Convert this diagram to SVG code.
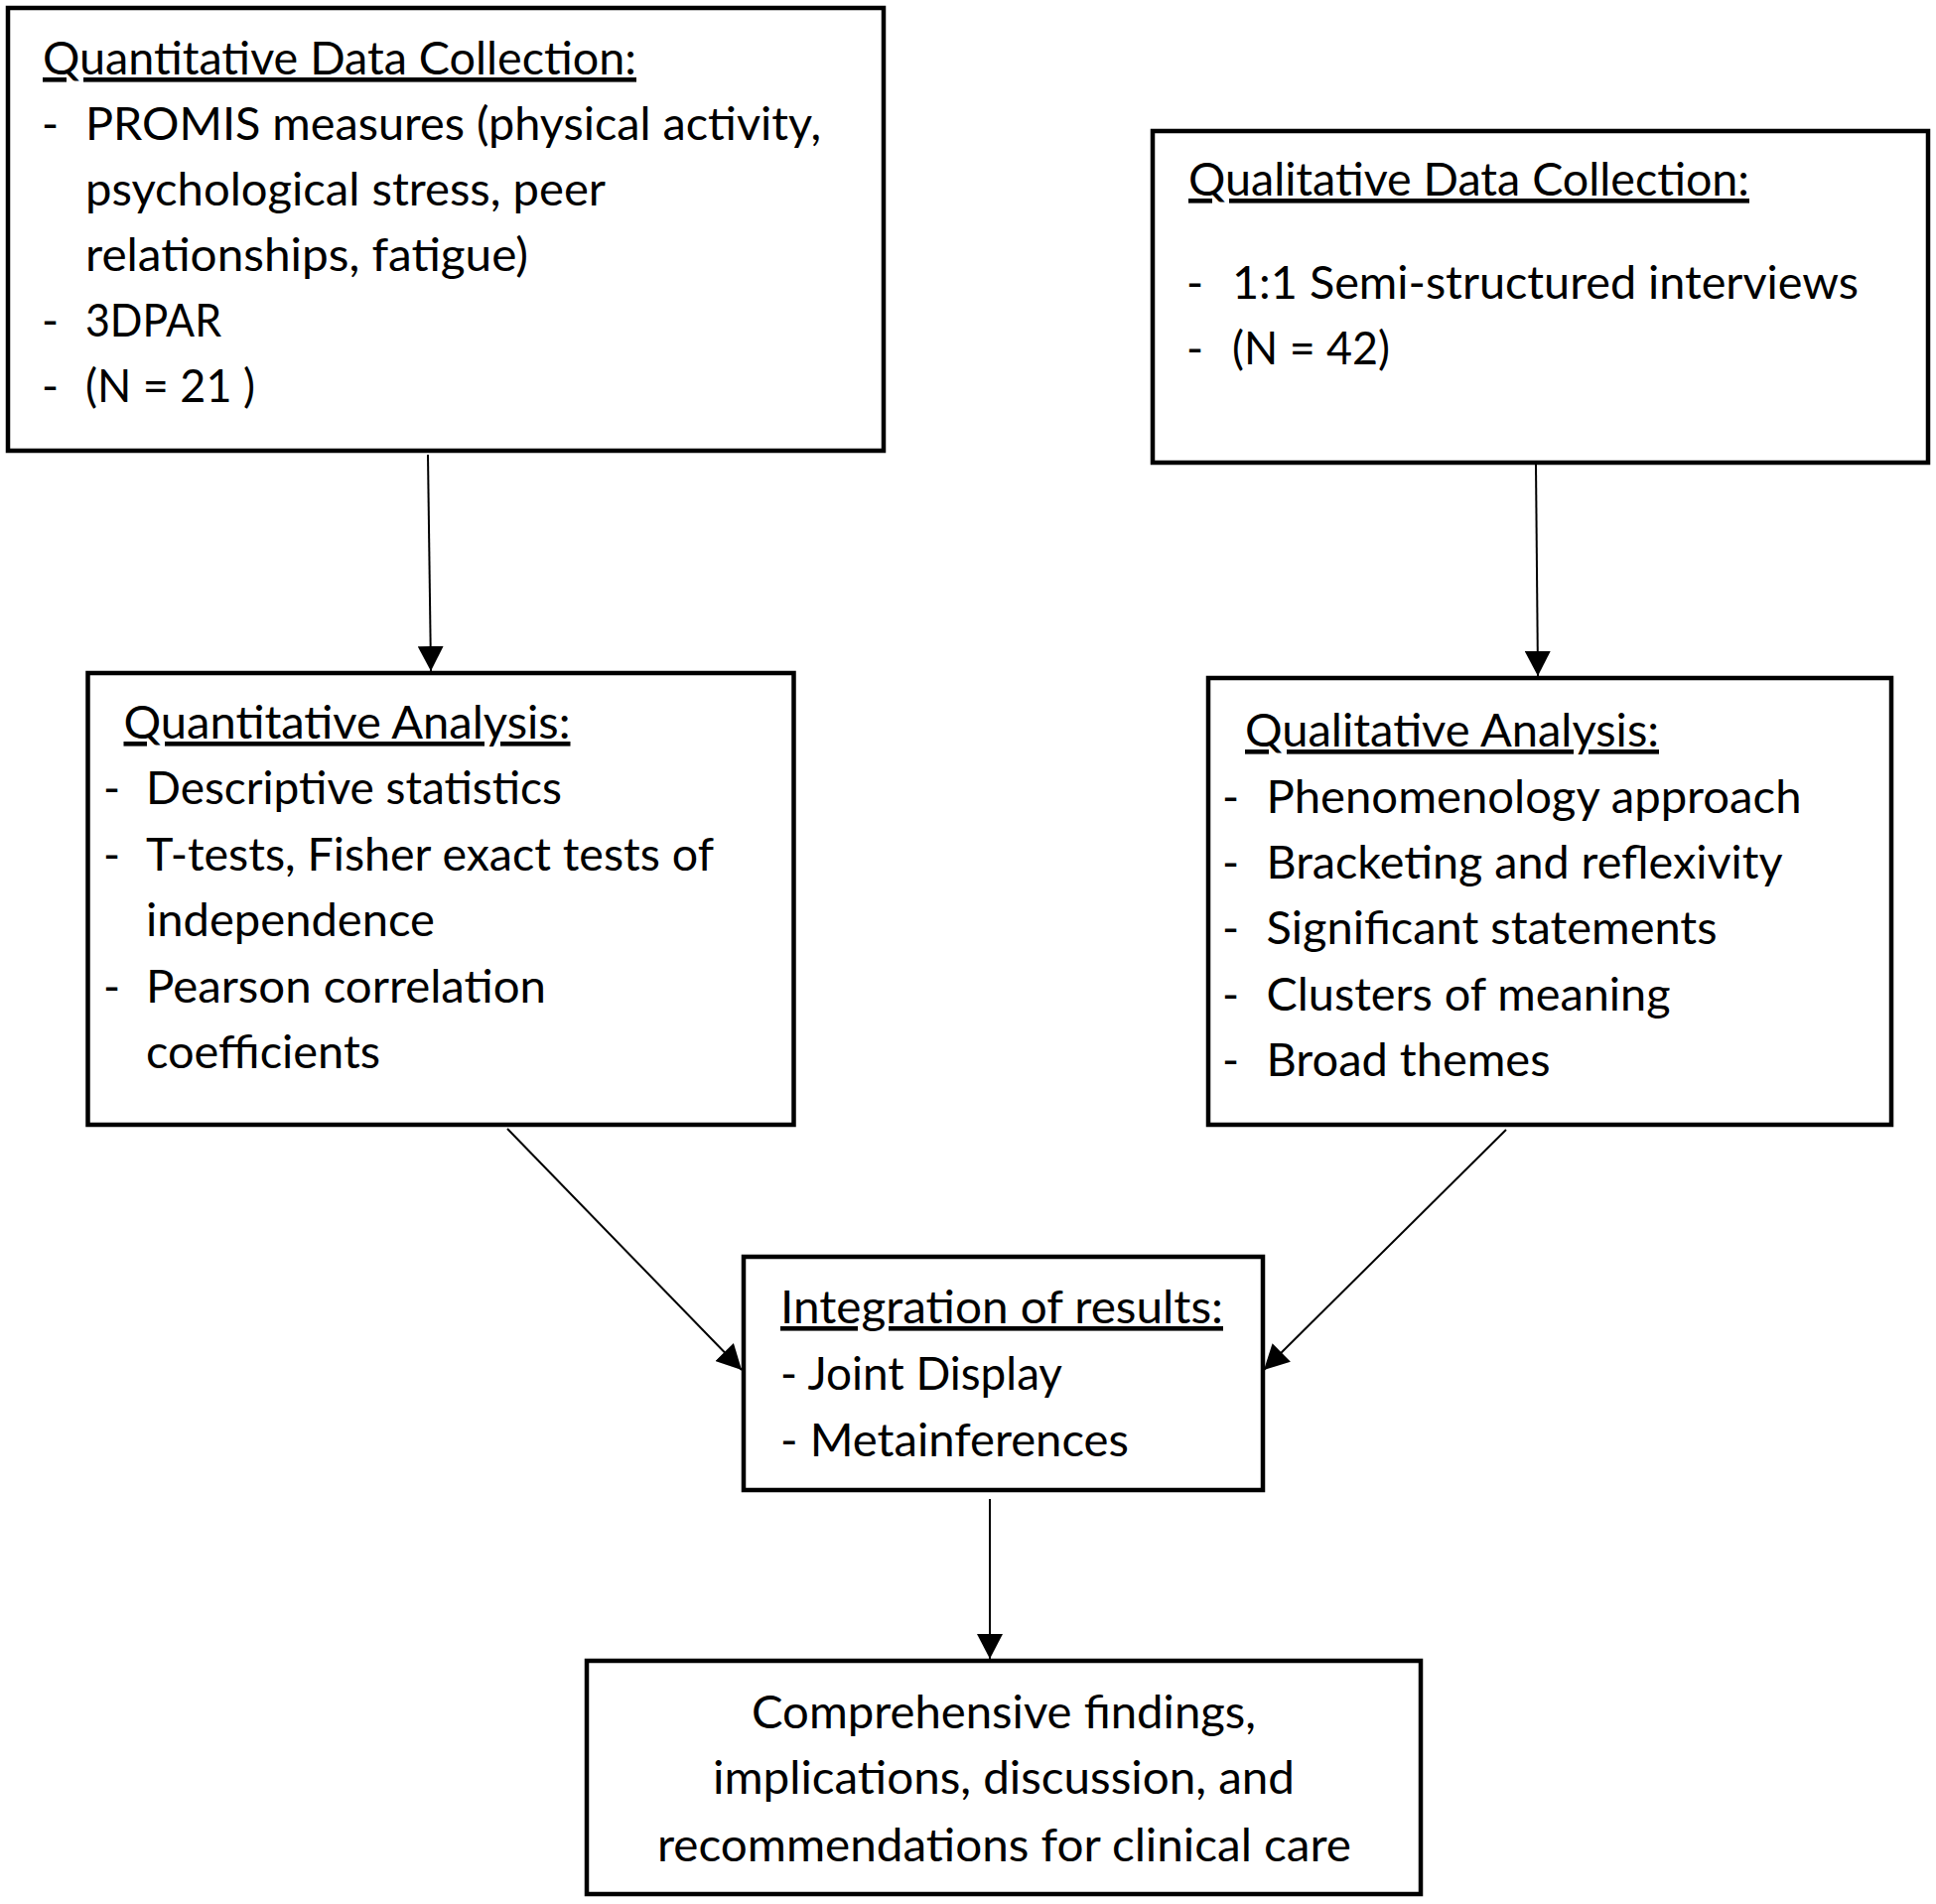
<svg xmlns="http://www.w3.org/2000/svg" width="1950" height="1918" viewBox="0 0 1950 1918">
<style>
.box{fill:#fff;stroke:#000;stroke-width:4.5}
text{font-family:Lato,"Open Sans","Liberation Sans",sans-serif;font-size:46px;fill:#000}
.u{text-decoration:underline}
.c{text-anchor:middle}
.conn line{stroke:#000;stroke-width:2}
</style>
<defs>
<marker id="ah" markerUnits="userSpaceOnUse" markerWidth="26" markerHeight="26" refX="25" refY="13" orient="auto" viewBox="0 0 26 26">
<path d="M0,0 L25,13 L0,26 z" fill="#000"/>
</marker>
</defs>
<rect width="1950" height="1918" fill="#fff"/>
<g id="connectors" class="conn">
<line x1="431" y1="458" x2="434" y2="676" marker-end="url(#ah)"/>
<line x1="1547" y1="468" x2="1549" y2="681" marker-end="url(#ah)"/>
<line x1="511" y1="1137" x2="747" y2="1380" marker-end="url(#ah)"/>
<line x1="1517" y1="1138" x2="1273" y2="1380" marker-end="url(#ah)"/>
<line x1="997" y1="1510" x2="997" y2="1671" marker-end="url(#ah)"/>
</g>
<g id="quant-collection">
<rect class="box" x="8" y="8" width="882" height="446"/>
<text class="u" x="43" y="75" textLength="598" lengthAdjust="spacingAndGlyphs">Quantitative Data Collection:</text>
<text x="42" y="141">-</text>
<text x="86" y="141" textLength="741" lengthAdjust="spacingAndGlyphs">PROMIS measures (physical activity,</text>
<text x="86" y="207" textLength="524" lengthAdjust="spacingAndGlyphs">psychological stress, peer</text>
<text x="86" y="273" textLength="446" lengthAdjust="spacingAndGlyphs">relationships, fatigue)</text>
<text x="42" y="339">-</text>
<text x="86" y="339" textLength="137" lengthAdjust="spacingAndGlyphs">3DPAR</text>
<text x="42" y="405">-</text>
<text x="86" y="405" textLength="171" lengthAdjust="spacingAndGlyphs">(N = 21 )</text>
</g>
<g id="qual-collection">
<rect class="box" x="1161" y="132" width="781" height="334"/>
<text class="u" x="1197" y="197" textLength="565" lengthAdjust="spacingAndGlyphs">Qualitative Data Collection:</text>
<text x="1195" y="301">-</text>
<text x="1241" y="301" textLength="631" lengthAdjust="spacingAndGlyphs">1:1 Semi-structured interviews</text>
<text x="1195" y="367">-</text>
<text x="1241" y="367" textLength="159" lengthAdjust="spacingAndGlyphs">(N = 42)</text>
</g>
<g id="quant-analysis">
<rect class="box" x="88.5" y="678" width="711" height="455"/>
<text class="u" x="124.5" y="744" textLength="450" lengthAdjust="spacingAndGlyphs">Quantitative Analysis:</text>
<text x="104" y="810">-</text>
<text x="147" y="810" textLength="419" lengthAdjust="spacingAndGlyphs">Descriptive statistics</text>
<text x="104" y="877">-</text>
<text x="147" y="877" textLength="572" lengthAdjust="spacingAndGlyphs">T-tests, Fisher exact tests of</text>
<text x="147" y="943" textLength="291" lengthAdjust="spacingAndGlyphs">independence</text>
<text x="104" y="1010">-</text>
<text x="147" y="1010" textLength="403" lengthAdjust="spacingAndGlyphs">Pearson correlation</text>
<text x="147" y="1076" textLength="236" lengthAdjust="spacingAndGlyphs">coefficients</text>
</g>
<g id="qual-analysis">
<rect class="box" x="1217" y="683" width="688" height="450"/>
<text class="u" x="1254" y="752" textLength="417" lengthAdjust="spacingAndGlyphs">Qualitative Analysis:</text>
<text x="1231" y="818.5">-</text>
<text x="1275.5" y="818.5" textLength="539" lengthAdjust="spacingAndGlyphs">Phenomenology approach</text>
<text x="1231" y="885">-</text>
<text x="1275.5" y="885" textLength="520" lengthAdjust="spacingAndGlyphs">Bracketing and reflexivity</text>
<text x="1231" y="951">-</text>
<text x="1275.5" y="951" textLength="454" lengthAdjust="spacingAndGlyphs">Significant statements</text>
<text x="1231" y="1017.5">-</text>
<text x="1275.5" y="1017.5" textLength="407" lengthAdjust="spacingAndGlyphs">Clusters of meaning</text>
<text x="1231" y="1084">-</text>
<text x="1275.5" y="1084" textLength="286" lengthAdjust="spacingAndGlyphs">Broad themes</text>
</g>
<g id="integration">
<rect class="box" x="749" y="1266" width="523" height="235"/>
<text class="u" x="786" y="1333" textLength="446" lengthAdjust="spacingAndGlyphs">Integration of results:</text>
<text x="786" y="1400" textLength="284" lengthAdjust="spacingAndGlyphs">- Joint Display</text>
<text x="786" y="1466.5" textLength="351" lengthAdjust="spacingAndGlyphs">- Metainferences</text>
</g>
<g id="findings">
<rect class="box" x="591" y="1673" width="840" height="235"/>
<text class="c" x="1011" y="1741" textLength="508" lengthAdjust="spacingAndGlyphs">Comprehensive findings,</text>
<text class="c" x="1011" y="1807" textLength="586" lengthAdjust="spacingAndGlyphs">implications, discussion, and</text>
<text class="c" x="1011.5" y="1874.5" textLength="699" lengthAdjust="spacingAndGlyphs">recommendations for clinical care</text>
</g>
</svg>
